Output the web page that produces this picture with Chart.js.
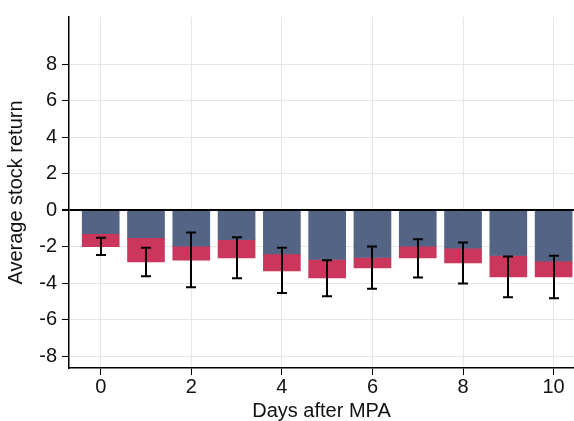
<!DOCTYPE html>
<html>
<head>
<meta charset="utf-8">
<script src="https://cdn.jsdelivr.net/npm/chart.js@4.4.0/dist/chart.umd.min.js"></script>
<style>
html,body{margin:0;padding:0;background:#fff;}
#wrap{width:574px;height:421px;position:relative;}
</style>
</head>
<body>
<div id="wrap"><canvas id="c" width="574" height="421"></canvas></div>
<script>
const days = [0,1,2,3,4,5,6,7,8,9,10];
const baseReturn = [-1.28,-1.50,-1.97,-1.61,-2.39,-2.70,-2.59,-1.97,-2.08,-2.48,-2.79];
const totalReturn = [-2.00,-2.83,-2.74,-2.61,-3.32,-3.71,-3.16,-2.61,-2.89,-3.65,-3.65];
const ciHigh = [-1.50,-2.06,-1.22,-1.48,-2.06,-2.74,-1.99,-1.59,-1.77,-2.54,-2.50];
const ciLow = [-2.45,-3.62,-4.22,-3.73,-4.53,-4.71,-4.31,-3.69,-4.02,-4.77,-4.82];
const xTicks = [0,2,4,6,8,10];
const yTicks = [-8,-6,-4,-2,0,2,4,6,8];

const FONT = "'Liberation Sans', Arial, sans-serif";

const errorBars = {
  id:'errorBars',
  afterDatasetsDraw(chart){
    const {ctx, scales:{x,y}} = chart;
    ctx.save();
    ctx.strokeStyle = '#000';
    ctx.lineWidth = 2;
    days.forEach((d,i)=>{
      const px = Math.round(x.getPixelForValue(d));
      const yt = y.getPixelForValue(ciHigh[i]);
      const yb = y.getPixelForValue(ciLow[i]);
      ctx.beginPath();
      ctx.moveTo(px,yt); ctx.lineTo(px,yb);
      ctx.moveTo(px-5,yt); ctx.lineTo(px+5,yt);
      ctx.moveTo(px-5,yb); ctx.lineTo(px+5,yb);
      ctx.stroke();
    });
    ctx.restore();
  }
};

new Chart(document.getElementById('c'),{
  type:'bar',
  data:{
    datasets:[
      {data: days.map((d,i)=>({x:d,y:baseReturn[i]})), backgroundColor:'#546485', barThickness:37, grouped:false},
      {data: days.map((d,i)=>({x:d,y:[baseReturn[i],totalReturn[i]]})), backgroundColor:'#cb365d', barThickness:37, grouped:false}
    ]
  },
  options:{
    responsive:false,
    animation:false,
    layout:{padding:{top:16,right:0,left:0,bottom:0}},
    plugins:{legend:{display:false},tooltip:{enabled:false}},
    scales:{
      x:{
        type:'linear', min:-0.7, max:10.45, offset:false,
        afterBuildTicks(s){ s.ticks = xTicks.map(v=>({value:v})); },
        afterFit(s){ s.height = 53; },
        grid:{offset:false, color:'#e6e6e6', lineWidth:1, tickColor:'#000', tickLength:7},
        border:{display:true, color:'#000', width:1.5},
        ticks:{color:'#111', font:{family:FONT,size:20,lineHeight:1}, padding:2},
        title:{display:true, text:'Days after MPA', color:'#111', font:{family:FONT,size:20,lineHeight:1}, padding:{top:3,bottom:0}}
      },
      y:{
        type:'linear', min:-8.65, max:10.6,
        afterBuildTicks(s){ s.ticks = yTicks.map(v=>({value:v})); },
        afterFit(s){ s.width = 69; },
        grid:{color:(c)=> c.tick && c.tick.value===0 ? '#000' : '#e6e6e6', lineWidth:(c)=> c.tick && c.tick.value===0 ? 2 : 1, tickColor:'#000', tickLength:7},
        border:{display:true, color:'#000', width:1.5},
        ticks:{color:'#111', font:{family:FONT,size:20}, padding:5},
        title:{display:true, text:'Average stock return', color:'#111', font:{family:FONT,size:20,lineHeight:1}, padding:{top:6,bottom:4}}
      }
    }
  },
  plugins:[errorBars]
});
</script>
</body>
</html>
